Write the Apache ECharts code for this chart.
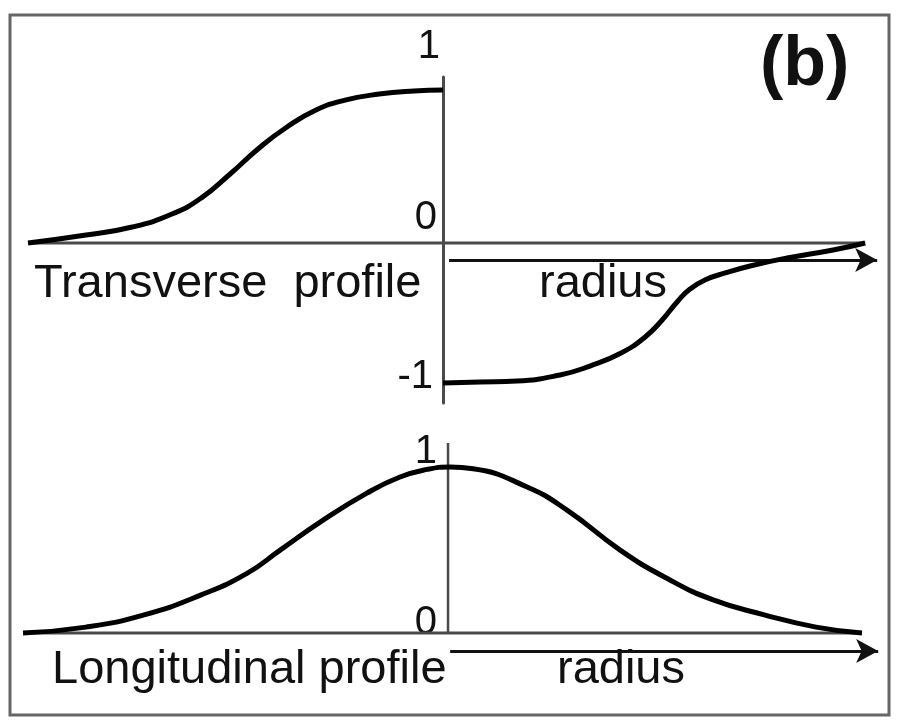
<!DOCTYPE html>
<html>
<head>
<meta charset="utf-8">
<title>(b)</title>
<script src="https://cdn.jsdelivr.net/npm/echarts@6/dist/echarts.min.js"></script>
<style>
  html, body { margin: 0; padding: 0; background: #fff; }
  #chart { width: 898px; height: 720px; }
</style>
</head>
<body>
<div id="chart"></div>
<script>
// 横坐标: radius (-1 .. 1), 纵坐标: 剖面值
// transverse profile, left and right of the axis
var transLeft = [[-1, 0], [-0.86, 0.057], [-0.749, 0.114], [-0.653, 0.207], [-0.583, 0.321],
  [-0.513, 0.493], [-0.443, 0.679], [-0.376, 0.829], [-0.306, 0.95], [-0.236, 1.021],
  [-0.154, 1.064], [-0.07, 1.086], [0, 1.093]]
var transRight = [[0, -1], [0.089, -0.993], [0.178, -0.986], [0.282, -0.943], [0.354, -0.879],
  [0.429, -0.786], [0.487, -0.671], [0.528, -0.55], [0.566, -0.414], [0.595, -0.329],
  [0.631, -0.264], [0.68, -0.214], [0.74, -0.164], [0.829, -0.107], [0.94, -0.05], [1.017, 0]]
// longitudinal profile
var longProfile = [[-1, 0], [-0.852, 0.036], [-0.715, 0.11], [-0.581, 0.23], [-0.473, 0.36],
  [-0.395, 0.5], [-0.3, 0.67], [-0.191, 0.843], [-0.113, 0.94], [-0.049, 0.986], [0.005, 1],
  [0.059, 0.99], [0.186, 0.88], [0.28, 0.741], [0.405, 0.5], [0.515, 0.33], [0.624, 0.2],
  [0.744, 0.11], [0.866, 0.036], [0.974, 0]]

// 坐标轴线 + radius 箭头
var topZeroLine = [[-1, 0], [1.017, 0]]
var topArrow = [[0.0145, -0.121], [1.046, -0.121]]
var botZeroLine = [[-1, 0], [0.974, 0]]
var botVertLine = [[0, 0], [0, 1.145]]
var botArrow = [[0.005, -0.108], [1.012, -0.108]]

// tick labels
var topTicks = [-1, 0, 1]
var botTicks = [0, 1]

var font = 'Liberation Sans, Arial, Helvetica, sans-serif'
var axisGray = '#4a4a4a'

function lbl (pb, pr) {
  return { fontSize: 40, fontFamily: font, color: '#111', padding: [0, pr, pb, 0] }
}

function curve (data, xi) {
  return {
    type: 'line', xAxisIndex: xi, yAxisIndex: xi, data: data,
    smooth: 0.5, symbol: 'none', silent: true,
    lineStyle: { color: '#000', width: 5 }, z: 5
  }
}

function axisLine (data, xi, arrow, w) {
  var s = {
    type: 'line', xAxisIndex: xi, yAxisIndex: xi, data: data,
    symbol: 'none', silent: true,
    lineStyle: { color: axisGray, width: w || 3 }, z: 3
  }
  if (arrow) {
    s.markLine = {
      silent: true, animation: false,
      symbol: ['none', 'arrow'], symbolSize: [18, 22],
      label: { show: false },
      lineStyle: { color: '#111', width: 3, type: 'solid' },
      data: [[{ coord: arrow[0] }, { coord: arrow[1] }]]
    }
  }
  return s
}

var myChart = echarts.init(document.getElementById('chart'), null, { renderer: 'canvas' })

var option = {
  backgroundColor: '#fff',
  animation: false,
  grid: [
    { left: 28, top: 77, width: 850, height: 326, outerBoundsMode: 'none' },
    { left: 23, top: 443, width: 856, height: 215, outerBoundsMode: 'none' }
  ],
  xAxis: [
    { gridIndex: 0, type: 'value', min: -1, max: 1.048, show: false },
    { gridIndex: 1, type: 'value', min: -1, max: 1.014, show: false }
  ],
  yAxis: [
    {
      gridIndex: 0, type: 'value', min: -1.143, max: 1.186,
      position: 'left', offset: -415,
      axisLine: { show: true, onZero: false, lineStyle: { color: axisGray, width: 3 } },
      axisTick: { show: false }, splitLine: { show: false },
      axisLabel: {
        customValues: topTicks, margin: 3,
        formatter: function (v) {
          if (v === 1) return '{a|1}'
          if (v === 0) return '{b|0}'
          return '{c|-1}'
        },
        rich: { a: lbl(112, 0), b: lbl(50, 3), c: lbl(12, 7) }
      }
    },
    {
      gridIndex: 1, type: 'value', min: -0.15, max: 1.145,
      position: 'left', offset: -425,
      axisLine: { show: false, onZero: false },
      axisTick: { show: false }, splitLine: { show: false },
      axisLabel: {
        customValues: botTicks, margin: 11,
        formatter: function (v) {
          return v === 1 ? '{a|1}' : '{b|0}'
        },
        rich: { a: lbl(30, 0), b: lbl(20, 0) }
      }
    }
  ],
  graphic: [
    { type: 'rect', shape: { x: 10, y: 15, width: 879, height: 700 },
      style: { fill: 'none', stroke: '#666', lineWidth: 3 }, silent: true },
    { type: 'text', x: 34, y: 284,
      style: { text: 'Transverse  profile', font: '47px ' + font, fill: '#111',
        verticalAlign: 'middle', textVerticalAlign: 'middle' } },
    { type: 'text', x: 539, y: 284,
      style: { text: 'radius', font: '47px ' + font, fill: '#111',
        verticalAlign: 'middle', textVerticalAlign: 'middle' } },
    { type: 'text', x: 52, y: 670,
      style: { text: 'Longitudinal profile', font: '47px ' + font, fill: '#111',
        verticalAlign: 'middle', textVerticalAlign: 'middle' } },
    { type: 'text', x: 557, y: 670,
      style: { text: 'radius', font: '47px ' + font, fill: '#111',
        verticalAlign: 'middle', textVerticalAlign: 'middle' } },
    { type: 'text', x: 760, y: 66,
      style: { text: '(b)', font: 'bold 70px ' + font, fill: '#111',
        verticalAlign: 'middle', textVerticalAlign: 'middle' } }
  ],
  series: [
    axisLine(topZeroLine, 0, topArrow),
    curve(transLeft, 0),
    curve(transRight, 0),
    axisLine(botZeroLine, 1, botArrow),
    axisLine(botVertLine, 1, null, 2.5),
    curve(longProfile, 1)
  ]
}

myChart.setOption(option)
</script>
</body>
</html>
